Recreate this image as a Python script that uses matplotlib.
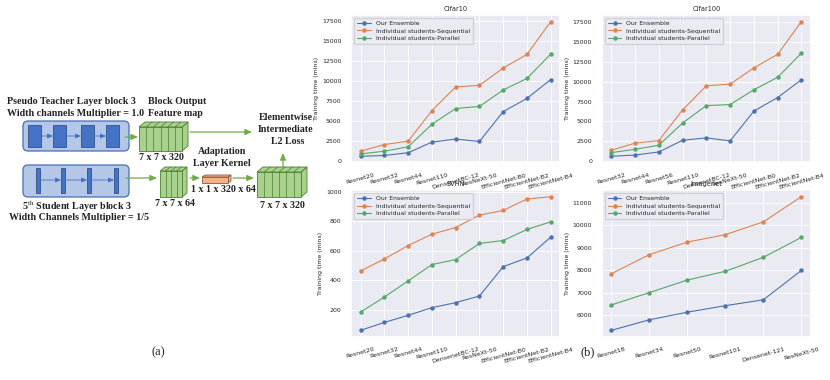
import numpy as np
import matplotlib
matplotlib.use("Agg")
import matplotlib.pyplot as plt
import seaborn as sns
from matplotlib.patches import Rectangle, FancyBboxPatch, Polygon

sns.set_theme(style="darkgrid")

# ---- data ----
cifar10_models = ["Resnet20", "Resnet32", "Resnet44", "Resnet110", "DensenetBC-12",
                  "ResNeXt-50", "EfficientNet-B0", "EfficientNet-B2", "EfficientNet-B4"]
cifar10_ensemble = [620, 720, 1060, 2380, 2760, 2460, 6180, 7820, 10170]
cifar10_sequential = [1250, 2080, 2500, 6300, 9250, 9450, 11600, 13300, 17380]
cifar10_parallel = [920, 1250, 1800, 4600, 6560, 6820, 8870, 10300, 13340]

cifar100_models = ["Resnet32", "Resnet44", "Resnet56", "Resnet110", "DensenetBC-12",
                   "ResNeXt-50", "EfficientNet-B0", "EfficientNet-B2", "EfficientNet-B4"]
cifar100_ensemble = [600, 760, 1140, 2620, 2920, 2540, 6300, 8000, 10250]
cifar100_sequential = [1360, 2250, 2580, 6440, 9480, 9700, 11740, 13450, 17580]
cifar100_parallel = [1060, 1480, 1990, 4790, 6990, 7120, 8980, 10550, 13600]

svhn_models = ["Resnet20", "Resnet32", "Resnet44", "Resnet110", "DensenetBC-12",
               "ResNeXt-50", "EfficientNet-B0", "EfficientNet-B2", "EfficientNet-B4"]
svhn_ensemble = [60, 114, 162, 214, 248, 293, 492, 551, 692]
svhn_sequential = [463, 544, 635, 712, 757, 841, 873, 950, 966]
svhn_parallel = [184, 286, 395, 506, 540, 649, 669, 744, 796]

imagenet_models = ["Resnet18", "Resnet34", "Resnet50", "Resnet101", "Densenet-121", "ResNeXt-50"]
imagenet_ensemble = [5320, 5790, 6130, 6420, 6680, 7990]
imagenet_sequential = [7840, 8690, 9250, 9580, 10150, 11270]
imagenet_parallel = [6450, 7000, 7560, 7950, 8570, 9460]

series_names = ["Our Ensemble", "Individual students-Sequential", "Individual students-Parallel"]
colors = ["#4C72B0", "#DD8452", "#55A868"]

fig = plt.figure(figsize=(8.3, 3.8), dpi=100)

# ---- left diagram, drawn in pixel coordinates ----
dg = fig.add_axes([0, 0, 1, 1])
dg.set_xlim(0, 830)
dg.set_ylim(380, 0)
dg.axis("off")

serif = dict(family="Liberation Serif", fontweight="bold", color="#222222")
green_face, green_edge = "#a9d18e", "#4e7d33"
arrow_green = "#70ad47"
fs = 7.2


def arrow(x0, y0, x1, y1, color=arrow_green, lw=0.9, scale=5):
    dg.annotate("", xy=(x1, y1), xytext=(x0, y0),
                arrowprops=dict(arrowstyle="-|>,head_width=0.35,head_length=0.8",
                                mutation_scale=scale,
                                color=color, lw=lw, shrinkA=0, shrinkB=0))


def cuboid(x, y, w, h, dx, dy, ncols, face=green_face, edge=green_edge):
    # side and top faces first
    dg.add_patch(Polygon([(x + w, y), (x + w + dx, y - dy), (x + w + dx, y + h - dy), (x + w, y + h)],
                         closed=True, fc=face, ec=edge, lw=0.6))
    dg.add_patch(Polygon([(x, y), (x + dx, y - dy), (x + w + dx, y - dy), (x + w, y)],
                         closed=True, fc=face, ec=edge, lw=0.6))
    dg.add_patch(Rectangle((x, y), w, h, fc=face, ec=edge, lw=0.6))
    for i in range(1, ncols):
        xx = x + w * i / ncols
        dg.plot([xx, xx], [y, y + h], color=edge, lw=0.5)
        dg.plot([xx, xx + dx], [y, y - dy], color=edge, lw=0.5)


# teacher block
dg.add_patch(FancyBboxPatch((23, 121), 106, 30, boxstyle="round,pad=0,rounding_size=5",
                            fc="#b4c7e7", ec="#4a6fb5", lw=0.9))
t_blocks = [28, 53, 81, 106]
for i, bx in enumerate(t_blocks):
    dg.add_patch(Rectangle((bx, 125), 13, 22, fc="#4472c4", ec="#2f528f", lw=0.6))
    if i < len(t_blocks) - 1:
        arrow(bx + 13, 136, t_blocks[i + 1], 136, color="#4472c4", lw=0.6, scale=4)

# student block
dg.add_patch(FancyBboxPatch((23, 165), 106, 32, boxstyle="round,pad=0,rounding_size=5",
                            fc="#b4c7e7", ec="#4a6fb5", lw=0.9))
s_blocks = [36, 61, 87, 114]
for i, bx in enumerate(s_blocks):
    dg.add_patch(Rectangle((bx, 168), 4, 25, fc="#4472c4", ec="#2f528f", lw=0.6))
    if i < len(s_blocks) - 1:
        arrow(bx + 4, 180, s_blocks[i + 1], 180, color="#4472c4", lw=0.6, scale=4)

# feature maps
cuboid(139, 127, 43, 24, 6, 5, 6)
cuboid(160, 171, 22, 26, 5, 4, 4)
cuboid(257, 172, 44, 25, 6, 5, 6)
cuboid(202, 177, 26, 6, 3, 2, 1, face="#f4b183", edge="#8a5a3c")

# arrows between parts
arrow(125, 137, 138, 137)
arrow(190, 132, 252, 132)
arrow(126, 178, 157, 178)
arrow(190, 178, 200, 178)
arrow(233, 178, 254, 178)
arrow(283, 167, 283, 153)

# diagram text
dg.text(7, 102, "Pseudo Teacher Layer block 3", fontsize=fs, va="center", **serif)
dg.text(7, 114, "Width channels Multiplier = 1.0", fontsize=fs, va="center", **serif)
dg.text(148, 102, "Block Output", fontsize=fs, va="center", **serif)
dg.text(148, 114, "Feature map", fontsize=fs, va="center", **serif)
dg.text(161, 158, "7 x 7 x 320", fontsize=fs, ha="center", va="center", **serif)
dg.text(286, 118, "Elementwise", fontsize=fs, ha="center", va="center", **serif)
dg.text(286, 130, "Intermediate", fontsize=fs, ha="center", va="center", **serif)
dg.text(288, 142, "L2 Loss", fontsize=fs, ha="center", va="center", **serif)
dg.text(222, 152, "Adaptation", fontsize=fs, ha="center", va="center", **serif)
dg.text(222, 164, "Layer Kernel", fontsize=fs, ha="center", va="center", **serif)
dg.text(223, 190, "1 x 1 x 320 x 64", fontsize=fs, ha="center", va="center", **serif)
dg.text(175, 203, "7 x 7 x 64", fontsize=fs, ha="center", va="center", **serif)
dg.text(282, 206, "7 x 7 x 320", fontsize=fs, ha="center", va="center", **serif)
dg.text(77, 206, r"5$^{\mathrm{th}}$ Student Layer block 3", fontsize=fs, ha="center", va="center",
        family="Liberation Serif", fontweight="bold", color="#222222", math_fontfamily="stix")
dg.text(79, 218, "Width Channels Multiplier = 1/5", fontsize=fs, ha="center", va="center", **serif)
dg.text(158, 352, "(a)", fontsize=9, ha="center", va="center", family="Liberation Serif", color="#222222")
dg.text(588, 352, "(b)", fontsize=9, ha="center", va="center", family="Liberation Serif", color="#222222")

# ---- charts ----
panels = [
    ("Cifar10", cifar10_models, [cifar10_ensemble, cifar10_sequential, cifar10_parallel],
     [0.423, 0.571, 0.252, 0.390]),
    ("Cifar100", cifar100_models, [cifar100_ensemble, cifar100_sequential, cifar100_parallel],
     [0.725, 0.571, 0.252, 0.390]),
    ("SVHN", svhn_models, [svhn_ensemble, svhn_sequential, svhn_parallel],
     [0.423, 0.113, 0.252, 0.387]),
    ("Imagenet", imagenet_models, [imagenet_ensemble, imagenet_sequential, imagenet_parallel],
     [0.725, 0.113, 0.252, 0.387]),
]

for title, models, series, rect in panels:
    ax = fig.add_axes(rect)
    x = np.arange(len(models))
    for name, vals, c in zip(series_names, series, colors):
        ax.plot(x, vals, marker="o", markersize=2.2, lw=0.8, color=c, label=name)
    ax.set_xticks(x)
    ax.set_xticklabels(models, rotation=15, fontsize=4.5)
    ax.tick_params(axis="y", labelsize=4.5, pad=1)
    ax.tick_params(axis="x", pad=1)
    ax.set_title(title, fontsize=4.8, pad=3)
    ax.set_ylabel("Training time (mins)", fontsize=4.5, labelpad=2)
    ax.grid(True, color="white", lw=0.6)
    ax.legend(loc="upper left", fontsize=4.4, handlelength=2.2, borderpad=0.5, labelspacing=0.35)

fig.savefig("out.png", dpi=100)
